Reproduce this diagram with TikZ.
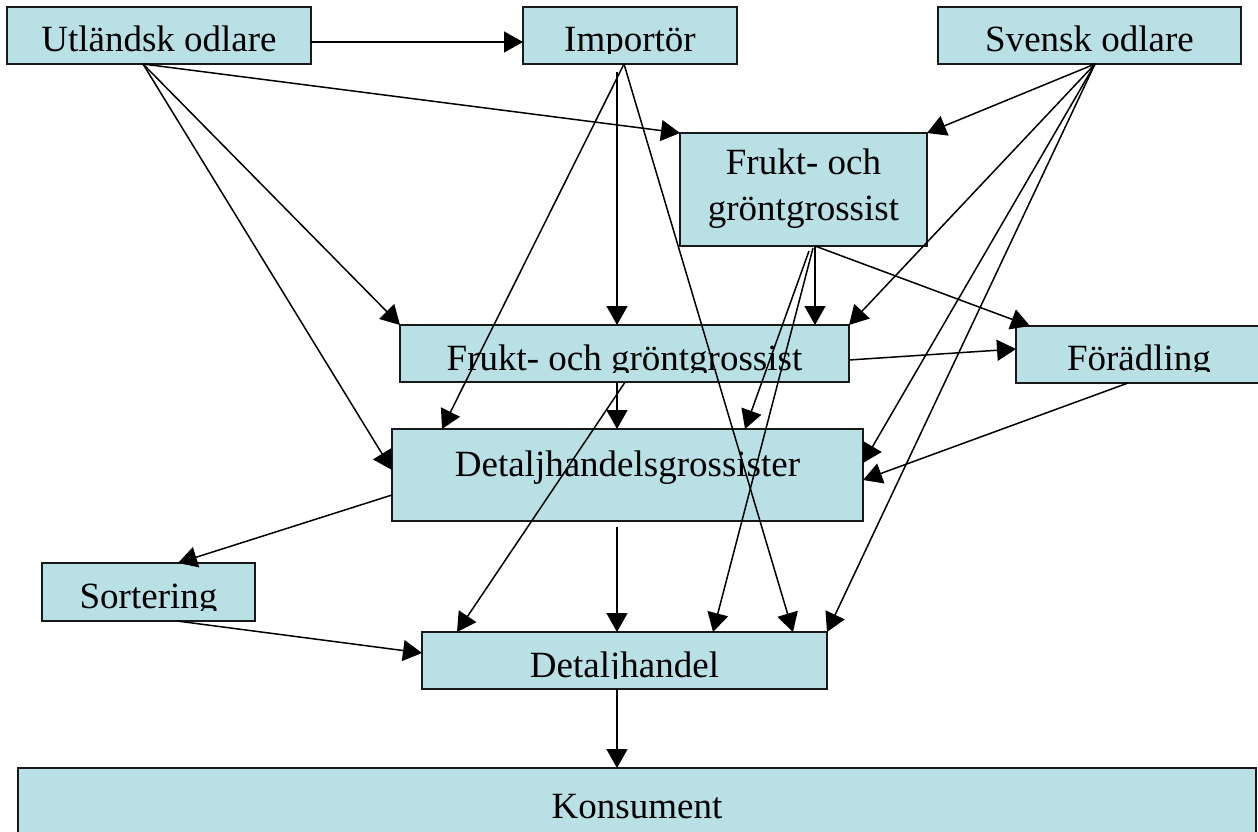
\documentclass[tikz,border=0pt]{standalone}
\usepackage{fontspec}
\setmainfont{Liberation Serif}
\usetikzlibrary{arrows.meta}
\definecolor{boxfill}{RGB}{185,224,228}
\begin{document}
\begin{tikzpicture}[x=1pt,y=-1pt,
  box/.style={draw=black!90,line width=1.6pt,fill=boxfill,inner sep=0pt,outer sep=0pt,rectangle},
  lbl/.style={inner sep=0pt,outer sep=0pt,anchor=base,font=\fontsize{37}{44}\selectfont},
  arr/.style={line width=1.5pt,-{Triangle[length=19pt,width=21pt]}}]
\useasboundingbox (0,0) rectangle (1258,832);
\clip (0,0) rectangle (1258,832);
% boxes
\node[box,minimum width=304pt,minimum height=57pt] (uo) at (159,35.5) {};
\node[box,minimum width=214pt,minimum height=57pt] (imp) at (630,35.5) {};
\node[box,minimum width=303pt,minimum height=57pt] (so) at (1089.5,35.5) {};
\node[box,minimum width=247pt,minimum height=113pt] (fg1) at (803.5,189.5) {};
\node[box,minimum width=449pt,minimum height=57pt] (fg2) at (624.5,353.5) {};
\node[box,minimum width=246pt,minimum height=57pt] (foe) at (1139,354.5) {};
\node[box,minimum width=471pt,minimum height=92pt] (dg) at (627.5,475) {};
\node[box,minimum width=213pt,minimum height=58pt] (sort) at (148.5,592) {};
\node[box,minimum width=405pt,minimum height=57pt] (dh) at (624.5,660.5) {};
\node[box,minimum width=1238pt,minimum height=77pt] (kon) at (637,806.5) {};
% labels
\node[lbl] (uo-t) at (159,52) {Utländsk odlare};
\begin{scope}
\clip (523,7) rectangle (737,54);
\node[lbl] (imp-t) at (630,52) {Importör};
\end{scope}
\node[lbl] (so-t) at (1089.5,52) {Svensk odlare};
\node[lbl] (fg1-t1) at (803.5,175) {Frukt- och};
\node[lbl] (fg1-t2) at (803.5,220) {gröntgrossist};
\begin{scope}
\clip (400,325) rectangle (849,372);
\node[lbl] (fg2-t) at (624.5,370) {Frukt- och gröntgrossist};
\end{scope}
\begin{scope}
\clip (1016,326) rectangle (1262,371);
\node[lbl] (foe-t) at (1139,370) {Förädling};
\end{scope}
\node[lbl] (dg-t) at (627.5,476) {Detaljhandelsgrossister};
\begin{scope}
\clip (42,563) rectangle (255,610);
\node[lbl] (sort-t) at (148.5,608) {Sortering};
\end{scope}
\begin{scope}
\clip (422,632) rectangle (827,678.5);
\node[lbl] (dh-t) at (624.5,677) {Detaljhandel};
\end{scope}
\node[lbl] (kon-t) at (637,818) {Konsument};
% source points
\coordinate (uos) at ([xshift=-16pt]uo.south);
\coordinate (imps) at ([xshift=-6pt]imp.south);
\coordinate (sos) at ([xshift=5.5pt]so.south);
\coordinate (fg1s) at ([xshift=11.5pt]fg1.south);
% connectors
\draw[arr] ([yshift=-6.5pt]uo.east) -- ([yshift=-6.5pt]imp.west);
\draw[arr] (uos) -- (fg1.north west);
\draw[arr] (uos) -- (fg2.north west);
\draw[arr] (uos) -- ([yshift=5pt]dg.west);
\draw[arr] (imps) -- ([xshift=50pt]dg.north west);
\draw[arr] ([shift={(-13pt,-8pt)}]imp.south) -- ([xshift=-7.5pt]fg2.north);
\draw[arr] (imps) -- ([xshift=-34pt]dh.north east);
\draw[arr] (sos) -- (fg1.north east);
\draw[arr] (sos) -- (fg2.north east);
\draw[arr] (sos) -- ([yshift=12pt]dg.east);
\draw[arr] (sos) -- (dh.north east);
\draw[arr] (fg1s) -- (fg1s |- fg2.north);
\draw[arr] (fg1s) -- ([xshift=14pt]foe.north west);
\draw[arr] ([shift={(-6pt,-5pt)}]fg1s) -- ([xshift=-118pt]dg.north east);
\draw[arr] ([shift={(-2pt,-2pt)}]fg1s) -- ([xshift=-114pt]dh.north east);
\draw[arr] ([yshift=-6.5pt]fg2.east) -- ([yshift=5.5pt]foe.west);
\draw[arr] ([xshift=-7.5pt]fg2.south) -- ([xshift=-10.5pt]dg.north);
\draw[arr] ([yshift=-1pt]fg2.south) -- ([xshift=35pt]dh.north west);
\draw[arr] ([xshift=-11pt]foe.south) -- ([yshift=-5pt]dg.east);
\draw[arr] ([yshift=-20pt]dg.west) -- ([xshift=29.5pt]sort.north);
\draw[arr] ([shift={(-10.5pt,-6pt)}]dg.south) -- ([xshift=-7.5pt]dh.north);
\draw[arr] ([xshift=28.5pt]sort.south) -- ([yshift=7.5pt]dh.west);
\draw[arr] ([xshift=-7.5pt]dh.south) -- ([xshift=-20pt]kon.north);
\end{tikzpicture}
\end{document}
